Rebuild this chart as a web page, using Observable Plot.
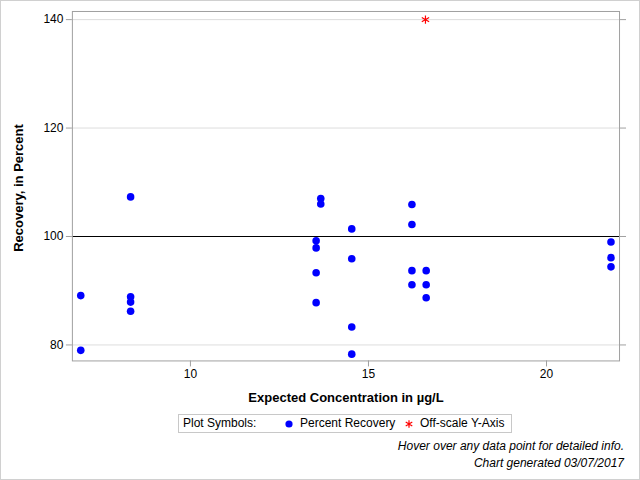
<!DOCTYPE html>
<html>
<head>
<meta charset="utf-8">
<script src="https://cdn.jsdelivr.net/npm/d3@7"></script>
<script src="https://cdn.jsdelivr.net/npm/@observablehq/plot@0.6"></script>
<style>
  html, body { margin: 0; padding: 0; background: #fff; }
  #wrap { position: relative; width: 638px; height: 478px; border: 1px solid #d0d0d0; overflow: hidden;
          font-family: "Liberation Sans", Arial, sans-serif; color: #000; }
  #chart { position: absolute; left: -1px; top: -1px; }
  .abs { position: absolute; white-space: nowrap; }
  #legend { position: absolute; left: 177px; top: 413px; width: 332px; height: 17px; border: 1px solid #c8c8c8;
            font-size: 12px; line-height: 17px; }
  .foot { position: absolute; right: 15px; font-size: 12px; font-style: italic; text-align: right; white-space: nowrap; }
</style>
</head>
<body>
<div id="wrap">
  <div id="chart"></div>
  <div class="abs" style="left:0;width:690px;top:389px;text-align:center;font-size:13px;font-weight:bold;">Expected Concentration in µg/L</div>
  <div class="abs" style="left:17px;top:187px;font-size:13px;font-weight:bold;transform:translate(-50%,-50%) rotate(-90deg);">Recovery, in Percent</div>
  <div id="legend"></div>
  <div class="foot" style="top:438px;">Hover over any data point for detailed info.</div>
  <div class="foot" style="top:455px;">Chart generated 03/07/2017</div>
</div>
<script>
// Data
const concentration = [6.92, 6.92, 8.32, 8.32, 8.32, 8.32, 13.53, 13.53, 13.53, 13.53, 13.66, 13.66,
  14.53, 14.53, 14.53, 14.53, 16.22, 16.22, 16.22, 16.22, 16.62, 16.62, 16.62, 21.81, 21.81, 21.81];
const recovery = [89.1, 79.0, 107.3, 88.9, 87.9, 86.2, 99.2, 97.9, 93.3, 87.8, 107.0, 106.0,
  101.4, 95.9, 83.3, 78.3, 105.9, 102.2, 93.7, 91.1, 93.7, 91.1, 88.7, 99.0, 96.1, 94.4];
const offScaleConc = [16.6];
const offScaleValue = [140];
const xTicks = [10, 15, 20];
const yTicks = [80, 100, 120, 140];
const gridTicks = [80, 120, 140];
const refLine = [100];
const legendItems = ["Percent Recovery", "Off-scale Y-Axis"];

const points = concentration.map((c, i) => ({c, r: recovery[i]}));
const offPts = offScaleConc.map((c, i) => ({c, r: offScaleValue[i]}));

const chart = Plot.plot({
  width: 640,
  height: 409,
  marginTop: 11,
  marginLeft: 72,
  marginRight: 20,
  marginBottom: 48,
  style: {fontFamily: "'Liberation Sans', Arial, sans-serif", fontSize: "12px", color: "#000", background: "transparent"},
  x: {domain: [6.685, 22.05]},
  y: {domain: [77.05, 141.5]},
  marks: [
    Plot.gridY(gridTicks, {stroke: "#dddddd", strokeOpacity: 1}),
    Plot.ruleY(refLine, {stroke: "#000", strokeWidth: 1.2}),
    Plot.frame({stroke: "#a0a0a0"}),
    Plot.axisX({ticks: xTicks, tickSize: 6, tickPadding: 3, stroke: "#a0a0a0", label: null, fontSize: 12}),
    Plot.axisY({ticks: yTicks, tickSize: 6, tickPadding: 3, stroke: "#a0a0a0", label: null, fontSize: 12}),
    Plot.axisY({anchor: "right", ticks: yTicks, tickSize: 6, stroke: "#a0a0a0", tickFormat: () => "", label: null}),
    Plot.dot(points, {x: "c", y: "r", r: 3.8, fill: "#0000ff", stroke: "none"}),
    Plot.dot(offPts, {x: "c", y: "r", r: 4, symbol: "asterisk", stroke: "#ff0000", strokeWidth: 1.2})
  ]
});
document.getElementById("chart").appendChild(chart);

// Legend
const leg = d3.select("#legend");
leg.append("span").attr("class", "abs").style("left", "4px").text("Plot Symbols:");
const sw = leg.append("svg").attr("class", "abs").style("left", "104px").style("top", "3px")
  .attr("width", 12).attr("height", 12);
sw.append("circle").attr("cx", 6).attr("cy", 6).attr("r", 3.6).attr("fill", "#0000ff");
leg.append("span").attr("class", "abs").style("left", "121px").text(legendItems[0]);
const sw2 = leg.append("svg").attr("class", "abs").style("left", "224px").style("top", "3px")
  .attr("width", 12).attr("height", 12);
sw2.append("path").attr("transform", "translate(6,6)")
  .attr("d", d3.symbol(d3.symbolAsterisk, 40)())
  .attr("stroke", "#ff0000").attr("fill", "none").attr("stroke-width", 1.2);
leg.append("span").attr("class", "abs").style("left", "241px").text(legendItems[1]);
</script>
</body>
</html>
